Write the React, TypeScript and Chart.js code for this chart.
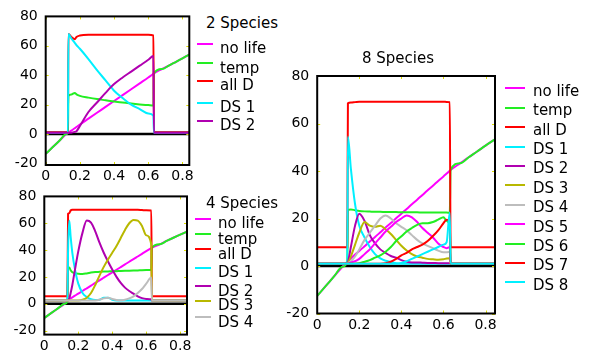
import React, { useEffect, useRef } from "react";
import { Chart, registerables } from "chart.js";

Chart.register(...registerables);

const FONT = "'DejaVu Sans', 'Noto Sans', sans-serif";

// ---------- shared ticks ----------
const xTicks = [0, 0.2, 0.4, 0.6, 0.8];
const yTicks = [-20, 0, 20, 40, 60, 80];

// ---------- 2 species ----------
const labelsA = ["no life", "temp", "all D", "DS 1", "DS 2"];
const xA = [0, 0.04, 0.08, 0.12, 0.13, 0.133, 0.15, 0.17, 0.18, 0.2, 0.25, 0.3, 0.35, 0.4, 0.45, 0.5, 0.55, 0.6, 0.63, 0.633, 0.68, 0.72, 0.76, 0.8, 0.84];
const noLifeA = [-13.4, -9, -4.5, 0, 0.8, 1.1, 2.4, 4, 4.8, 6.5, 10.5, 14.5, 18.5, 22.5, 26.5, 30.5, 34.5, 38.5, 41, 41.3, 44.2, 46.5, 49, 51.5, 54];
const tempA = [-13.4, -9, -4.5, 0, 0.8, 26, 27, 28, 27, 26, 24.8, 23.8, 23, 22.2, 21.5, 20.8, 20.2, 19.7, 19.4, 41.3, 44.2, 46.5, 49, 51.5, 54];
const allDA = [1.5, 1.5, 1.5, 1.5, 1.5, 68, 66, 64.5, 66, 67, 67.5, 67.5, 67.5, 67.5, 67.5, 67.5, 67.5, 67.5, 67, 1.5, 1.5, 1.5, 1.5, 1.5, 1.5];
const ds1A = [1, 1, 1, 1, 1, 68, 65, 62, 60.5, 58, 51, 43.5, 36.5, 29.5, 24.5, 20, 17, 14, 12.5, 1, 1, 1, 1, 1, 1];
const ds2A = [1, 1, 1, 1, 1, 1, 1, 1.5, 2, 5.5, 15, 21.5, 28, 34, 38.5, 42.5, 46.5, 50.5, 53, 1, 1, 1, 1, 1, 1];

// ---------- 4 species ----------
const labelsB = ["no life", "temp", "all D", "DS 1", "DS 2", "DS 3", "DS 4"];
const xB = [0, 0.04, 0.08, 0.12, 0.136, 0.14, 0.147, 0.155, 0.165, 0.18, 0.2, 0.225, 0.25, 0.275, 0.3, 0.325, 0.35, 0.375, 0.4, 0.425, 0.45, 0.475, 0.5, 0.525, 0.55, 0.575, 0.6, 0.63, 0.633, 0.68, 0.72, 0.76, 0.8, 0.84];
const noLifeB = [-10.6, -7, -3.5, 0, 1.8, 2.8, 3.4, 4, 4.8, 6, 7.6, 9.5, 11.5, 13.5, 15.5, 17.4, 19.4, 21.4, 23.4, 25.3, 27.3, 29.3, 31.3, 33.2, 35.2, 37.2, 39.2, 41.5, 41.7, 44.3, 46.8, 49.2, 51.5, 53.8];
const tempB = [-10.6, -7, -3.5, 0, 1.8, 26.4, 27, 25, 23.5, 22.8, 22.4, 22.2, 22.6, 23.2, 23.6, 23.8, 24, 24.1, 24.2, 24.3, 24.4, 24.5, 24.6, 24.7, 24.8, 25, 25.1, 25.3, 41.7, 44.3, 46.8, 49.2, 51.5, 53.8];
const allDB = [5.5, 5.5, 5.5, 5.5, 5.5, 67, 67.5, 69.5, 70, 70, 70, 70, 70, 70, 70, 70, 70, 70, 70, 70, 70, 70, 70, 70, 70, 69.8, 69.6, 69.5, 5.5, 5.5, 5.5, 5.5, 5.5, 5.5];
const ds1B = [2.5, 2.5, 2.5, 2.5, 2.5, 40, 62, 50, 38, 26, 15, 8, 5, 3.3, 2.8, 3, 4.5, 4.5, 3, 2.5, 2.5, 2.5, 2.5, 2.5, 2.5, 2.5, 2.5, 2.5, 2.5, 2.5, 2.5, 2.5, 2.5, 2.5];
const ds2B = [2.5, 2.5, 2.5, 2.5, 2.5, 2.5, 4, 8, 14, 25, 39, 53, 62, 60.5, 54, 45.5, 38, 31.5, 25.5, 20, 15.5, 12, 9.5, 7.5, 5.5, 4.2, 3.6, 3.3, 2.5, 2.5, 2.5, 2.5, 2.5, 2.5];
const ds3B = [2.5, 2.5, 2.5, 2.5, 2.5, 2.5, 2.5, 2.5, 2.5, 2.5, 2.5, 3, 4.5, 8, 14, 21, 27.5, 33, 38, 43, 49, 55, 60, 62.5, 62, 58, 51, 44, 2.5, 2.5, 2.5, 2.5, 2.5, 2.5];
const ds4B = [2.5, 2.5, 2.5, 2.5, 2.5, 2.5, 2.5, 2.5, 2.5, 2.5, 2.5, 2.5, 2.5, 2.5, 2.5, 3, 4, 4.5, 3.5, 2.8, 2.6, 3, 4, 5.5, 8, 11, 15, 19.5, 2.5, 2.5, 2.5, 2.5, 2.5, 2.5];

// ---------- 8 species ----------
const labelsC = ["no life", "temp", "all D", "DS 1", "DS 2", "DS 3", "DS 4", "DS 5", "DS 6", "DS 7", "DS 8"];
const xC = [0, 0.04, 0.08, 0.12, 0.143, 0.146, 0.16, 0.18, 0.2, 0.225, 0.25, 0.275, 0.3, 0.325, 0.35, 0.375, 0.4, 0.425, 0.45, 0.475, 0.5, 0.525, 0.55, 0.575, 0.6, 0.615, 0.63, 0.634, 0.68, 0.72, 0.76, 0.8, 0.845];
const noLifeC = [-12.6, -8.5, -4.4, -0.3, 1.8, 2.1, 3.2, 4.8, 6.3, 8.3, 10.3, 12.2, 14.2, 16.2, 18.1, 20.1, 22, 24, 26, 27.9, 29.9, 31.9, 33.8, 35.8, 37.7, 38.9, 40.1, 40.4, 43.3, 45.8, 48.2, 50.7, 53.3];
const tempC = [-12.6, -8.5, -4.4, -0.3, 1.8, 23.6, 23.8, 23.5, 23.2, 23, 22.9, 22.8, 22.8, 22.7, 22.7, 22.7, 22.6, 22.6, 22.6, 22.6, 22.5, 22.5, 22.5, 22.5, 22.5, 22.5, 22.4, 40.4, 43.3, 45.8, 48.2, 50.7, 53.3];
const allDC = [7.9, 7.9, 7.9, 7.9, 7.9, 68.5, 68.8, 69, 69.2, 69.2, 69.2, 69.2, 69.2, 69.2, 69.2, 69.2, 69.2, 69.2, 69.2, 69.2, 69.2, 69.2, 69.2, 69.2, 69.2, 69.1, 69, 7.9, 7.9, 7.9, 7.9, 7.9, 7.9];
const ds1C = [1, 1, 1, 1, 1, 54.4, 41, 26, 17, 12, 8, 5, 3.2, 2.2, 1.8, 1.2, 1, 1, 1, 1, 1, 1, 1, 1, 1, 1, 1, 1, 1, 1, 1, 1, 1];
const ds2C = [1, 1, 1, 1, 1, 1.5, 8, 17, 22, 19, 13, 9.5, 7, 5.5, 4.2, 3.5, 2.5, 1.8, 1.5, 1.5, 1.4, 1.3, 1.3, 1.2, 1.2, 1.2, 1.2, 1, 1, 1, 1, 1, 1];
const ds3C = [1, 1, 1, 1, 1, 1.2, 4, 9, 14, 18.5, 17, 16.5, 17, 15.5, 13.5, 11, 8.5, 6.5, 5, 4, 3.5, 3, 2.8, 2.6, 2.8, 3.2, 3.3, 1, 1, 1, 1, 1, 1];
const ds4C = [1, 1, 1, 1, 1, 1.2, 2, 4, 7, 11, 14, 17, 20, 21.3, 20, 18, 16.5, 15, 13, 11, 9.5, 8.5, 7.5, 6.5, 5.8, 5.8, 6, 1, 1, 1, 1, 1, 1];
const ds5C = [1, 1, 1, 1, 1, 1, 1.5, 2, 3, 5, 7, 9.5, 12, 14.5, 16.5, 18.5, 20, 21.3, 20.5, 18.5, 16, 14, 12, 9.5, 8, 7.5, 8, 1, 1, 1, 1, 1, 1];
const ds6C = [1, 1, 1, 1, 1, 1, 1, 1, 1.2, 1.8, 2.5, 3.5, 4.5, 6, 8, 10.5, 12.5, 14.5, 16, 17.3, 18, 18, 18.5, 19.5, 20.5, 19, 17, 1, 1, 1, 1, 1, 1];
const ds7C = [1, 1, 1, 1, 1, 1, 1, 1, 1, 1, 1, 1, 1, 1.2, 1.8, 3, 4.5, 5.5, 7, 8, 9, 10.5, 12.6, 15, 18, 19.5, 19, 1, 1, 1, 1, 1, 1];
const ds8C = [1, 1, 1, 1, 1, 1, 1, 1, 1, 1, 1, 1, 1, 1, 1, 1, 1.3, 2, 3, 4, 5, 6, 7, 8, 9, 10, 22.5, 1, 1, 1, 1, 1, 1];

// ---------- colours ----------
const colorsA = ["#ff00ff", "#22ee22", "#ff0000", "#00f0ff", "#b000b0"];
const colorsB = ["#ff00ff", "#22ee22", "#ff0000", "#00f0ff", "#b000b0", "#b8b800", "#bdbdbd"];
const colorsC = ["#ff00ff", "#22ee22", "#ff0000", "#00f0ff", "#b000b0", "#b8b800", "#bdbdbd", "#ff00ff", "#22ee22", "#ff0000", "#00f0ff"];

const seriesA = [noLifeA, tempA, allDA, ds1A, ds2A];
const seriesB = [noLifeB, tempB, allDB, ds1B, ds2B, ds3B, ds4B];
const seriesC = [noLifeC, tempC, allDC, ds1C, ds2C, ds3C, ds4C, ds5C, ds6C, ds7C, ds8C];

const framePlugin = {
  id: "frame",
  beforeDatasetsDraw(chart: any) {
    const { ctx, chartArea: a, scales } = chart;
    const y0 = scales.y.getPixelForValue(0);
    ctx.save();
    ctx.strokeStyle = "#000";
    ctx.lineWidth = 2.5;
    ctx.beginPath();
    ctx.moveTo(a.left, y0);
    ctx.lineTo(a.right, y0);
    ctx.stroke();
    ctx.restore();
  },
  afterDatasetsDraw(chart: any) {
    const { ctx, chartArea: a, scales } = chart;
    ctx.save();
    ctx.strokeStyle = "#e0e000";
    ctx.lineWidth = 1;
    ctx.beginPath();
    scales.y.ticks.forEach((t: any) => {
      const y = Math.round(scales.y.getPixelForValue(t.value)) + 0.5;
      ctx.moveTo(a.left, y); ctx.lineTo(a.left + 3, y);
      ctx.moveTo(a.right - 3, y); ctx.lineTo(a.right, y);
    });
    scales.x.ticks.forEach((t: any) => {
      const x = Math.round(scales.x.getPixelForValue(t.value)) + 0.5;
      ctx.moveTo(x, a.top); ctx.lineTo(x, a.top + 3);
      ctx.moveTo(x, a.bottom - 3); ctx.lineTo(x, a.bottom);
    });
    ctx.stroke();
    ctx.strokeStyle = "#000";
    ctx.lineWidth = 2;
    ctx.strokeRect(a.left, a.top, a.right - a.left, a.bottom - a.top);
    ctx.restore();
  },
};

type Box = { left: number; top: number; width: number; height: number };
type Area = { left: number; right: number; top: number; bottom: number };

function Panel(props: {
  xs: number[];
  series: number[][];
  labels: string[];
  colors: string[];
  box: Box;
  area: Area;
  yMin: number;
  xMax: number;
}) {
  const ref = useRef<HTMLCanvasElement>(null);
  const { xs, series, labels, colors, box, area, yMin, xMax } = props;
  useEffect(() => {
    const n = series.length;
    const chart = new Chart(ref.current as HTMLCanvasElement, {
      type: "line",
      data: {
        datasets: series.map((vals, i) => ({
          label: labels[i],
          data: xs.map((x, j) => ({ x, y: vals[j] })),
          borderColor: colors[i],
          backgroundColor: colors[i],
          borderWidth: 2,
          pointRadius: 0,
          fill: false,
          tension: 0.4,
          cubicInterpolationMode: "monotone",
          order: n - i,
        })),
      },
      options: {
        animation: false,
        responsive: false,
        devicePixelRatio: 1,
        layout: {
          padding: { left: 0, top: area.top, right: box.width - area.right, bottom: 0 },
        },
        plugins: { legend: { display: false }, tooltip: { enabled: false } },
        scales: {
          x: {
            type: "linear",
            min: 0,
            max: xMax,
            afterBuildTicks: (s: any) => {
              s.ticks = xTicks.map((v) => ({ value: v }));
            },
            afterFit: (s: any) => {
              s.height = box.height - area.bottom;
            },
            grid: { display: false, drawTicks: false },
            border: { display: false },
            ticks: {
              color: "#000",
              font: { family: FONT, size: 14 },
              padding: 3,
              autoSkip: false,
              maxRotation: 0,
              callback: (v: any) => String(v),
            },
          },
          y: {
            type: "linear",
            min: yMin,
            max: 80,
            afterBuildTicks: (s: any) => {
              s.ticks = yTicks.map((v) => ({ value: v }));
            },
            afterFit: (s: any) => {
              s.width = area.left;
            },
            grid: { display: false, drawTicks: false },
            border: { display: false },
            ticks: {
              color: "#000",
              font: { family: FONT, size: 14 },
              padding: 8,
              autoSkip: false,
              callback: (v: any) => String(v),
            },
          },
        },
      } as any,
      plugins: [framePlugin],
    });
    return () => chart.destroy();
  }, []);
  return (
    <canvas
      ref={ref}
      width={box.width}
      height={box.height}
      style={{ position: "absolute", left: box.left, top: box.top, width: box.width, height: box.height }}
    />
  );
}

function Legend(props: {
  title: string;
  titleLeft: number;
  titleY: number;
  labels: string[];
  colors: string[];
  lineLeft: number;
  lineWidth: number;
  textLeft: number;
  lineYs: number[];
  textDy: number;
}) {
  const p = props;
  return (
    <>
      <div
        style={{
          position: "absolute",
          left: p.titleLeft,
          top: p.titleY - 9,
          height: 18,
          lineHeight: "18px",
          fontSize: 15,
          whiteSpace: "nowrap",
          color: "#000",
        }}
      >
        {p.title}
      </div>
      {p.labels.map((l, i) => (
        <React.Fragment key={i}>
          <div
            style={{
              position: "absolute",
              left: p.lineLeft,
              top: Math.round(p.lineYs[i] - 1),
              width: p.lineWidth,
              height: 2,
              background: p.colors[i],
            }}
          />
          <div
            style={{
              position: "absolute",
              left: p.textLeft,
              top: Math.round(p.lineYs[i] + p.textDy - 9),
              height: 18,
              lineHeight: "18px",
              fontSize: 15,
              whiteSpace: "nowrap",
              color: "#000",
            }}
          >
            {l}
          </div>
        </React.Fragment>
      ))}
    </>
  );
}

const legendYsA = [43.5, 63, 80.5, 102.5, 120.5];
const legendYsB = [218.5, 234, 249, 267.5, 286, 300.5, 317];
const legendYsC = [88.3, 107.7, 127.1, 146.5, 165.9, 185.3, 204.7, 224.1, 243.5, 262.9, 282.3];

export default function App() {
  return (
    <div
      style={{
        position: "absolute",
        left: 0,
        top: 0,
        width: 590,
        height: 351,
        background: "#fff",
        fontFamily: FONT,
        overflow: "hidden",
      }}
    >
      <Panel
        xs={xA}
        series={seriesA}
        labels={labelsA}
        colors={colorsA}
        box={{ left: 0, top: 0, width: 200, height: 190 }}
        area={{ left: 45.7, right: 189.3, top: 9.5, bottom: 165 }}
        yMin={-21}
        xMax={0.84}
      />
      <Panel
        xs={xB}
        series={seriesB}
        labels={labelsB}
        colors={colorsB}
        box={{ left: 0, top: 180, width: 200, height: 171 }}
        area={{ left: 44.3, right: 187, top: 16, bottom: 155 }}
        yMin={-23}
        xMax={0.84}
      />
      <Panel
        xs={xC}
        series={seriesC}
        labels={labelsC}
        colors={colorsC}
        box={{ left: 268, top: 40, width: 240, height: 311 }}
        area={{ left: 49.2, right: 227, top: 36, bottom: 273.5 }}
        yMin={-20}
        xMax={0.845}
      />
      <Legend
        title="2 Species"
        titleLeft={206}
        titleY={23}
        labels={labelsA}
        colors={colorsA}
        lineLeft={197}
        lineWidth={16}
        textLeft={220}
        lineYs={legendYsA}
        textDy={4.5}
      />
      <Legend
        title="4 Species"
        titleLeft={206}
        titleY={203}
        labels={labelsB}
        colors={colorsB}
        lineLeft={195}
        lineWidth={16}
        textLeft={218}
        lineYs={legendYsB}
        textDy={4.5}
      />
      <Legend
        title="8 Species"
        titleLeft={362}
        titleY={58}
        labels={labelsC}
        colors={colorsC}
        lineLeft={505}
        lineWidth={20}
        textLeft={533}
        lineYs={legendYsC}
        textDy={2.5}
      />
    </div>
  );
}
